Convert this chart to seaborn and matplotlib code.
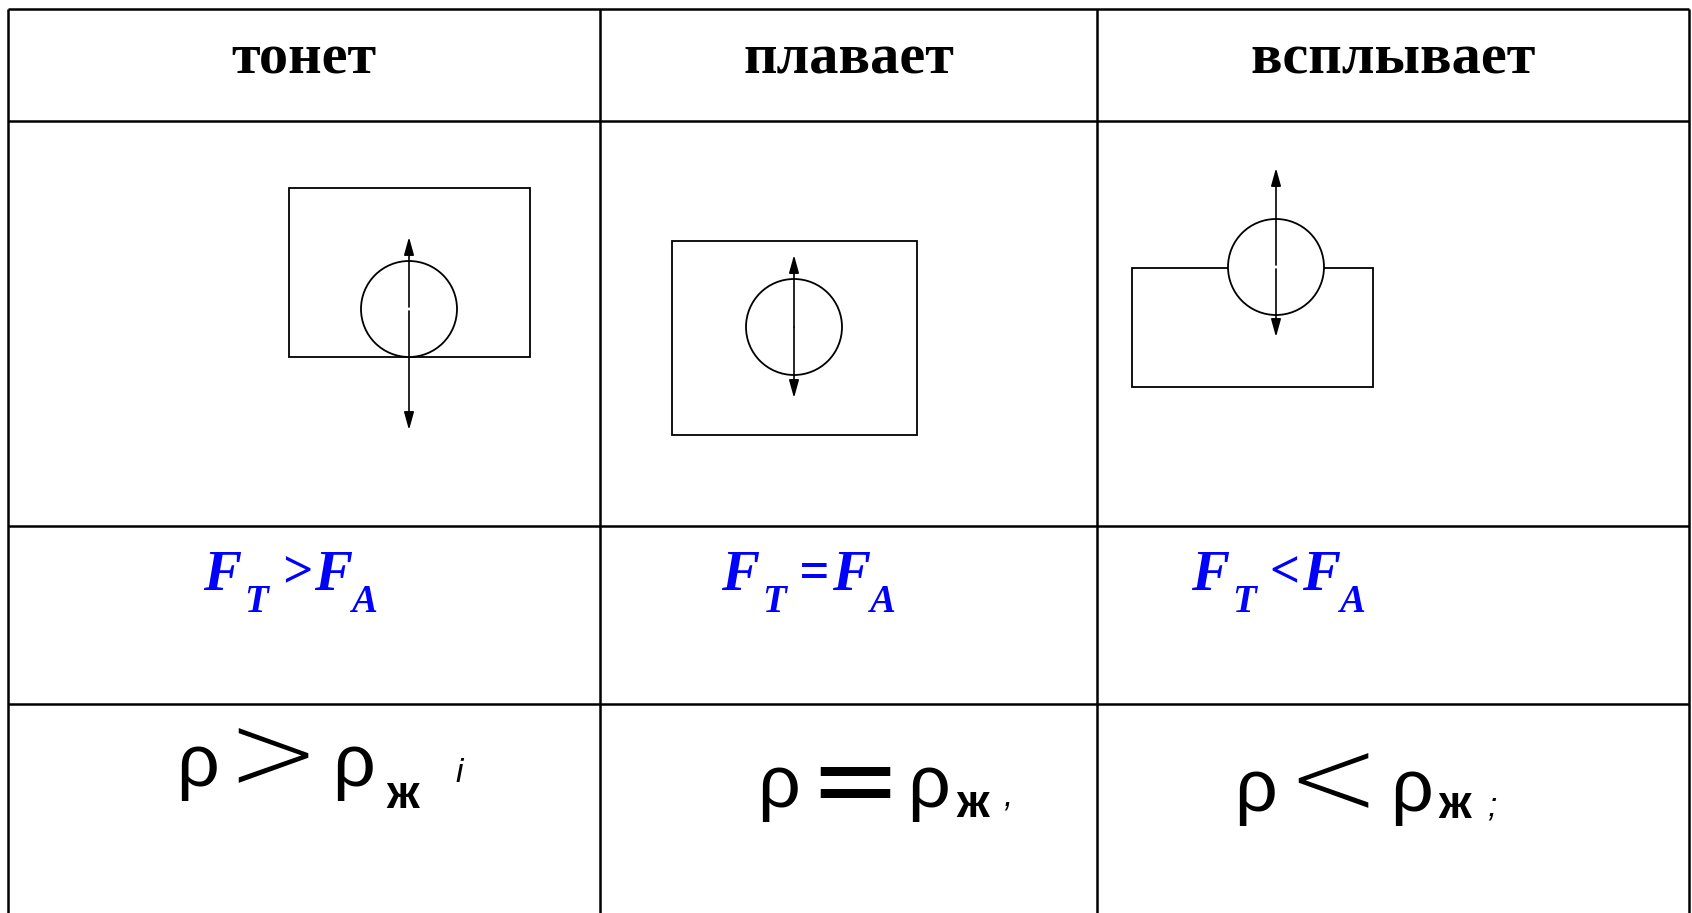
import matplotlib
matplotlib.use("Agg")
import matplotlib.pyplot as plt
from matplotlib.patches import Rectangle, Circle
import seaborn as sns

# --- table content ---
states = ["тонет", "плавает", "всплывает"]
force_ops = [">", "=", "<"]
density_ops = [">", "=", "<"]
density_tails = ["i", ",", ";"]

# --- the drawings: container (x, y, w, h), body centre, force arrows (px) ---
container = [(289, 188, 241, 169), (672, 241, 245, 194), (1132, 268, 241, 119)]
body_center = [(409, 309), (794, 327), (1276, 267)]
body_radius = [48, 48, 48]
force_up = [72, 72, 99]      # Archimedes force F_A
force_down = [121, 71, 70]   # gravity F_T

# --- table grid (px) ---
col_edges = [8, 600, 1097, 1689]
row_edges = [9, 121, 526, 704]

sns.set_theme(style="white")
plt.rcParams["font.family"] = ["Liberation Serif", "DejaVu Serif"]

fig = plt.figure(figsize=(16.92, 9.13), dpi=100)
ax = fig.add_axes([0, 0, 1, 1])
ax.set_xlim(0, 1692)
ax.set_ylim(913, 0)
ax.axis("off")
sns.despine(ax=ax, left=True, bottom=True)

# grid
for x in col_edges:
    ax.plot([x, x], [row_edges[0], 913], color="black", lw=1.8, solid_capstyle="butt")
for y in row_edges:
    ax.plot([col_edges[0], col_edges[-1]], [y, y], color="black", lw=1.8, solid_capstyle="butt")

centers = [(col_edges[i] + col_edges[i + 1]) / 2 for i in range(3)]

# header
for cx, s in zip(centers, states):
    ax.text(cx, 73, s, ha="center", va="baseline", fontsize=42, fontweight="bold",
            family="Liberation Serif", color="black")

# drawings
for i in range(3):
    x, y, w, h = container[i]
    ax.add_patch(Rectangle((x, y), w, h, fill=False, ec="black", lw=1.3, zorder=2))
    cx, cy = body_center[i]
    ax.add_patch(Circle((cx, cy), body_radius[i], fc="white", ec="black", lw=1.3, zorder=3))
    gap = 0 if force_up[i] == force_down[i] + 1 else 2
    ax.annotate("", xy=(cx, cy - force_up[i]), xytext=(cx, cy - gap),
                arrowprops=dict(arrowstyle="-|>,head_length=0.9,head_width=0.25",
                                color="black", lw=1.2, shrinkA=0, shrinkB=0), zorder=4)
    ax.annotate("", xy=(cx, cy + force_down[i]), xytext=(cx, cy + gap),
                arrowprops=dict(arrowstyle="-|>,head_length=0.9,head_width=0.25",
                                color="black", lw=1.2, shrinkA=0, shrinkB=0), zorder=4)

# force comparison row: F_T ? F_A
force_x0 = [203, 721, 1191]
blue = "#0000FF"
fkw = dict(family="Liberation Serif", fontweight="bold", style="italic", color=blue, va="baseline")
for x0, op in zip(force_x0, force_ops):
    ax.text(x0, 590, "F", fontsize=41, **fkw)
    ax.text(x0 + 41, 612, "T", fontsize=28, **fkw)
    ax.text(x0 + 78, 587, op, fontsize=38, **fkw)
    ax.text(x0 + 111, 590, "F", fontsize=41, **fkw)
    ax.text(x0 + 148, 612, "A", fontsize=28, **fkw)

# density comparison row: rho ? rho_zh
rho_x = [(176, 332), (757, 907), (1234, 1390)]
rho_base = [786, 807, 811]
op_center = [(273, 760), (855, 786), (1333, 785)]
op_weight = ["light", "normal", "light"]
zh_x = [386, 956, 1438]
zh_base = [808, 817, 818]
tail_x = [455, 1003, 1487]
tail_base = [782, 806, 816]
skw = dict(family="Liberation Sans", color="black")
for i in range(3):
    ax.text(rho_x[i][0], rho_base[i], "ρ", fontsize=54, va="baseline", **skw)
    ax.text(rho_x[i][1], rho_base[i], "ρ", fontsize=54, va="baseline", **skw)
    ax.text(op_center[i][0], op_center[i][1], density_ops[i], fontsize=80, ha="center",
            va="center", family="DejaVu Sans", fontweight=op_weight[i], color="black")
    ax.text(zh_x[i], zh_base[i], "ж", fontsize=33, va="baseline", fontweight="bold", **skw)
    ax.text(tail_x[i], tail_base[i], density_tails[i], fontsize=24, va="baseline",
            style="italic", **skw)

fig.savefig("out.png", dpi=100, facecolor="white")
